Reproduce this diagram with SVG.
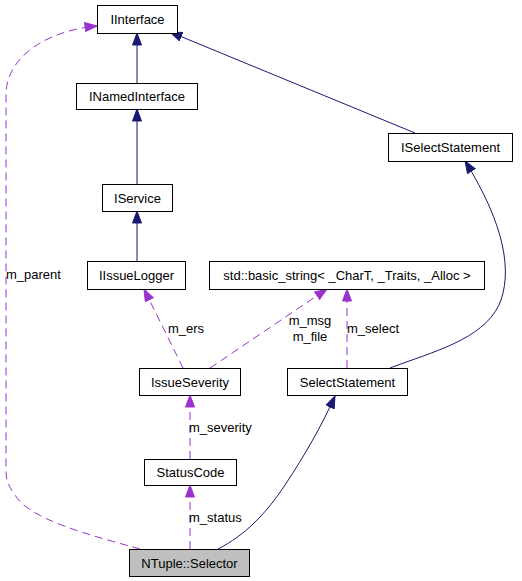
<svg xmlns="http://www.w3.org/2000/svg" width="522" height="581" viewBox="0 0 522 581">
<style>
  .box { fill: #ffffff; stroke: #000000; stroke-width: 1; }
  .cur { fill: #bfbfbf; stroke: #000000; stroke-width: 1; }
  text { font-family: "Liberation Sans", Arial, sans-serif; font-size: 13px; fill: #000000; }
  .nt { text-anchor: middle; }
  .inh { fill: none; stroke: #191970; stroke-width: 1; marker-end: url(#aNavy); }
  .use { fill: none; stroke: #9a32cd; stroke-width: 1; stroke-dasharray: 8,5; marker-end: url(#aPurple); }
</style>
<defs>
  <marker id="aNavy" markerUnits="userSpaceOnUse" markerWidth="14" markerHeight="11" refX="12.5" refY="5" orient="auto" viewBox="0 0 14 11">
    <path d="M0.5,0.5 L12.5,5 L0.5,9.5 Z" fill="#191970" stroke="#191970"/>
  </marker>
  <marker id="aPurple" markerUnits="userSpaceOnUse" markerWidth="14" markerHeight="11" refX="12.5" refY="5" orient="auto" viewBox="0 0 14 11">
    <path d="M0.5,0.5 L12.5,5 L0.5,9.5 Z" fill="#9a32cd" stroke="#9a32cd"/>
  </marker>
</defs>
<rect width="522" height="581" fill="#ffffff"/>
<g id="connectors">
  <path class="inh" d="M137,83 L137,33"/>
  <path class="inh" d="M137,184 L137,109"/>
  <path class="inh" d="M137,261 L137,211"/>
  <path class="inh" d="M415,133 L170,32"/>
  <path class="inh" d="M390,368 C432,352 482,340 499,305 C513,273 505,225 465,161"/>
  <path class="inh" d="M218,549 C245,535 265,515 285,485 C305,455 322,425 335,396"/>
  <path class="use" d="M140,549 C90,535 30,520 15,495 C8,485 6,480 6,470 L6,95 C6,55 50,30 97,26"/>
  <path class="use" d="M190,549 L190,485"/>
  <path class="use" d="M190,459 L190,395"/>
  <path class="use" d="M183,368 L144,289"/>
  <path class="use" d="M210,368 L327,289"/>
  <path class="use" d="M347,368 L347,289"/>
  <text x="6" y="279">m_parent</text>
  <text x="189" y="522">m_status</text>
  <text x="189" y="432">m_severity</text>
  <text x="168" y="333">m_ers</text>
  <text x="310" y="325" class="nt">m_msg</text>
  <text x="310" y="341" class="nt">m_file</text>
  <text x="347" y="333">m_select</text>
</g>
<g id="IInterface">
  <rect class="box" x="97.5" y="5.5" width="80" height="28"/>
  <text x="137.5" y="24" class="nt">IInterface</text>
</g>
<g id="INamedInterface">
  <rect class="box" x="76.5" y="83.5" width="121" height="26"/>
  <text x="137" y="101" class="nt">INamedInterface</text>
</g>
<g id="IService">
  <rect class="box" x="102.5" y="184.5" width="70" height="27"/>
  <text x="137.5" y="203" class="nt">IService</text>
</g>
<g id="ISelectStatement">
  <rect class="box" x="388.5" y="133.5" width="124" height="28"/>
  <text x="450.5" y="152" class="nt">ISelectStatement</text>
</g>
<g id="IIssueLogger">
  <rect class="box" x="87.5" y="261.5" width="98" height="28"/>
  <text x="136.5" y="280" class="nt">IIssueLogger</text>
</g>
<g id="basic_string">
  <rect class="box" x="209.5" y="261.5" width="275" height="28"/>
  <text x="347" y="280" class="nt">std::basic_string&lt; _CharT, _Traits, _Alloc &gt;</text>
</g>
<g id="IssueSeverity">
  <rect class="box" x="139.5" y="368.5" width="101" height="27"/>
  <text x="190" y="387" class="nt">IssueSeverity</text>
</g>
<g id="SelectStatement">
  <rect class="box" x="287.5" y="368.5" width="120" height="27"/>
  <text x="347.5" y="387" class="nt">SelectStatement</text>
</g>
<g id="StatusCode">
  <rect class="box" x="144.5" y="459.5" width="92" height="26"/>
  <text x="190.5" y="477" class="nt">StatusCode</text>
</g>
<g id="NTuple_Selector">
  <rect class="cur" x="129.5" y="549.5" width="120" height="27"/>
  <text x="189.5" y="568" class="nt">NTuple::Selector</text>
</g>
</svg>
